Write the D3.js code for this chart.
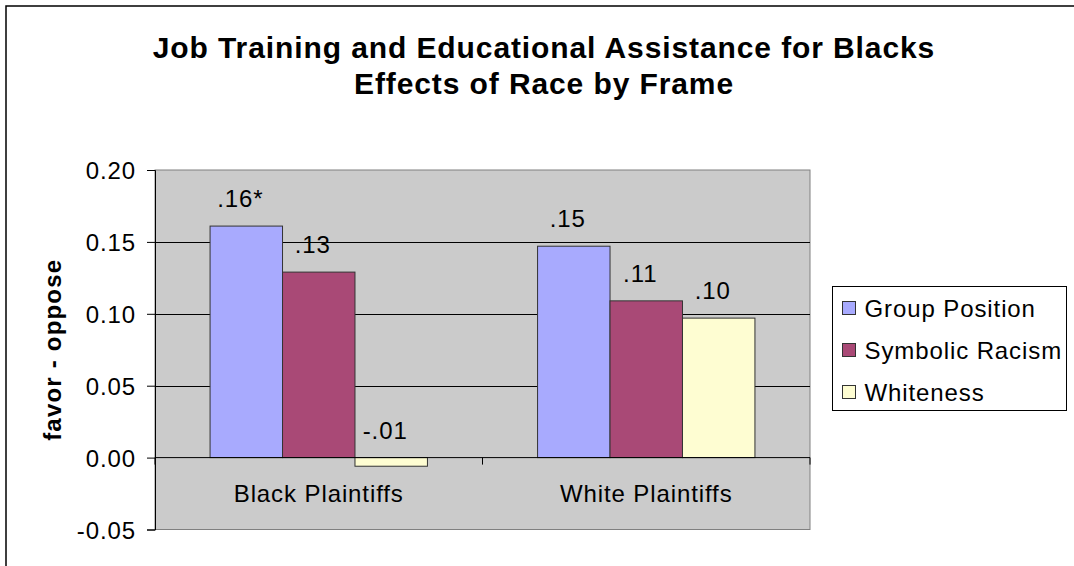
<!doctype html>
<html>
<head>
  <meta charset="utf-8">
  <title>Job Training and Educational Assistance for Blacks</title>
  <script src="https://cdnjs.cloudflare.com/ajax/libs/d3/7.8.5/d3.min.js"></script>
  <style>
    html, body { margin: 0; padding: 0; background: #fff; }
    svg text { font-family: "Liberation Sans", Arial, sans-serif; fill: #000; }
    .small { font-size: 24px; letter-spacing: 0.9px; }
  </style>
</head>
<body>
<div id="chart"></div>
<script>
  // chart values
  const categories = ['Black Plaintiffs', 'White Plaintiffs'];
  const series = ['Group Position', 'Symbolic Racism', 'Whiteness'];
  const values = [
    [0.161, 0.129, -0.006],   // Black Plaintiffs
    [0.147, 0.109, 0.097]     // White Plaintiffs
  ];
  const valueLabels = [
    ['.16*', '.13', '-.01'],
    ['.15', '.11', '.10']
  ];
  const yTicks = [-0.05, 0, 0.05, 0.10, 0.15, 0.20];
  const colors = ['#a8aafe', '#a94976', '#fefdd2'];

  const W = 1074, H = 566;
  const plot = { left: 155, right: 810, top: 170, bottom: 529.5 };

  const svg = d3.select('#chart').append('svg')
    .attr('width', W)
    .attr('height', H);

  // outer chart frame (runs off the right and bottom edge)
  svg.append('rect')
    .attr('x', 6).attr('y', 6)
    .attr('width', W + 20).attr('height', H + 20)
    .attr('fill', '#fff')
    .attr('stroke', '#000')
    .attr('stroke-width', 1.5);

  // title
  const title = svg.append('text')
    .attr('text-anchor', 'middle')
    .style('font-size', '30px')
    .style('font-weight', 'bold')
    .style('letter-spacing', '0.9px');
  title.append('tspan').attr('x', 544).attr('y', 58)
    .text('Job Training and Educational Assistance for Blacks');
  title.append('tspan').attr('x', 544).attr('y', 94)
    .text('Effects of Race by Frame');

  const y = d3.scaleLinear()
    .domain([-0.05, 0.20])
    .range([plot.bottom, plot.top]);

  const x0 = d3.scaleBand()
    .domain(categories)
    .range([plot.left, plot.right])
    .padding(0);

  const x1 = d3.scaleBand()
    .domain(series)
    .range([0, x0.bandwidth()])
    .paddingInner(0)
    .paddingOuter(0.76);

  // plot area
  svg.append('rect')
    .attr('x', plot.left).attr('y', plot.top)
    .attr('width', plot.right - plot.left)
    .attr('height', plot.bottom - plot.top)
    .attr('fill', '#cbcbcb')
    .attr('stroke', '#808080')
    .attr('stroke-width', 1);

  // gridlines
  svg.append('g')
    .selectAll('line')
    .data(yTicks.filter(d => d > -0.05 && d < 0.20 && d !== 0))
    .join('line')
    .attr('x1', plot.left).attr('x2', plot.right)
    .attr('y1', d => Math.round(y(d)) + 0.5)
    .attr('y2', d => Math.round(y(d)) + 0.5)
    .attr('stroke', '#000')
    .attr('stroke-width', 1);

  // bars
  const groups = svg.append('g')
    .selectAll('g')
    .data(categories)
    .join('g')
    .attr('transform', d => `translate(${x0(d)},0)`);

  const rows = (c, ci) => series.map((s, si) => ({ s, si, v: values[ci][si], label: valueLabels[ci][si] }));

  groups.selectAll('rect')
    .data(rows)
    .join('rect')
    .attr('x', d => x1(d.s))
    .attr('y', d => y(Math.max(0, d.v)))
    .attr('width', x1.bandwidth())
    .attr('height', d => Math.abs(y(d.v) - y(0)))
    .attr('fill', d => colors[d.si])
    .attr('stroke', '#333')
    .attr('stroke-width', 1);

  // data labels
  groups.selectAll('text')
    .data(rows)
    .join('text')
    .attr('class', 'small')
    .attr('text-anchor', 'middle')
    .attr('x', d => x1(d.s) + x1.bandwidth() / 2 - 6)
    .attr('y', d => y(Math.max(0, d.v)) - 19)
    .text(d => d.label);

  // value axis
  const yAxis = svg.append('g')
    .attr('transform', `translate(${plot.left},0)`)
    .call(d3.axisLeft(y).tickValues(yTicks)
      .tickFormat(d => d3.format('.2f')(d).replace('\u2212', '-'))
      .tickSize(8).tickPadding(11));
  yAxis.attr('font-size', null).attr('font-family', null);
  yAxis.select('.domain').attr('stroke', '#000');
  yAxis.selectAll('.tick line').attr('stroke', '#000');
  yAxis.selectAll('.tick text')
    .attr('class', 'small')
    .attr('dy', '0.36em');

  // category axis on the zero line
  const xAxis = svg.append('g')
    .attr('transform', `translate(0,${y(0)})`);
  xAxis.append('line')
    .attr('x1', plot.left).attr('x2', plot.right)
    .attr('stroke', '#000');
  xAxis.selectAll('line.tick')
    .data(categories.map(c => x0(c)).concat([plot.right]))
    .join('line')
    .attr('class', 'tick')
    .attr('x1', d => d).attr('x2', d => d)
    .attr('y1', 0).attr('y2', 7)
    .attr('stroke', '#000');

  svg.append('g')
    .selectAll('text')
    .data(categories)
    .join('text')
    .attr('class', 'small')
    .attr('text-anchor', 'middle')
    .attr('x', d => x0(d) + x0.bandwidth() / 2)
    .attr('y', 502)
    .text(d => d);

  // y axis title
  svg.append('text')
    .attr('transform', `translate(61,${(plot.top + plot.bottom) / 2}) rotate(-90)`)
    .attr('text-anchor', 'middle')
    .style('font-size', '24px')
    .style('font-weight', 'bold')
    .style('letter-spacing', '1.2px')
    .text('favor - oppose');

  // legend
  const legend = svg.append('g').attr('transform', 'translate(832.5,286.5)');
  legend.append('rect')
    .attr('width', 234).attr('height', 124)
    .attr('fill', '#fff')
    .attr('stroke', '#000');

  const items = legend.selectAll('g.item')
    .data(series)
    .join('g')
    .attr('class', 'item')
    .attr('transform', (d, i) => `translate(10,${22 + i * 42})`);

  items.append('rect')
    .attr('y', -7)
    .attr('width', 13).attr('height', 13)
    .attr('fill', (d, i) => colors[i])
    .attr('stroke', '#333');

  items.append('text')
    .attr('class', 'small')
    .attr('x', 22)
    .attr('y', 8)
    .text(d => d);
</script>
</body>
</html>
